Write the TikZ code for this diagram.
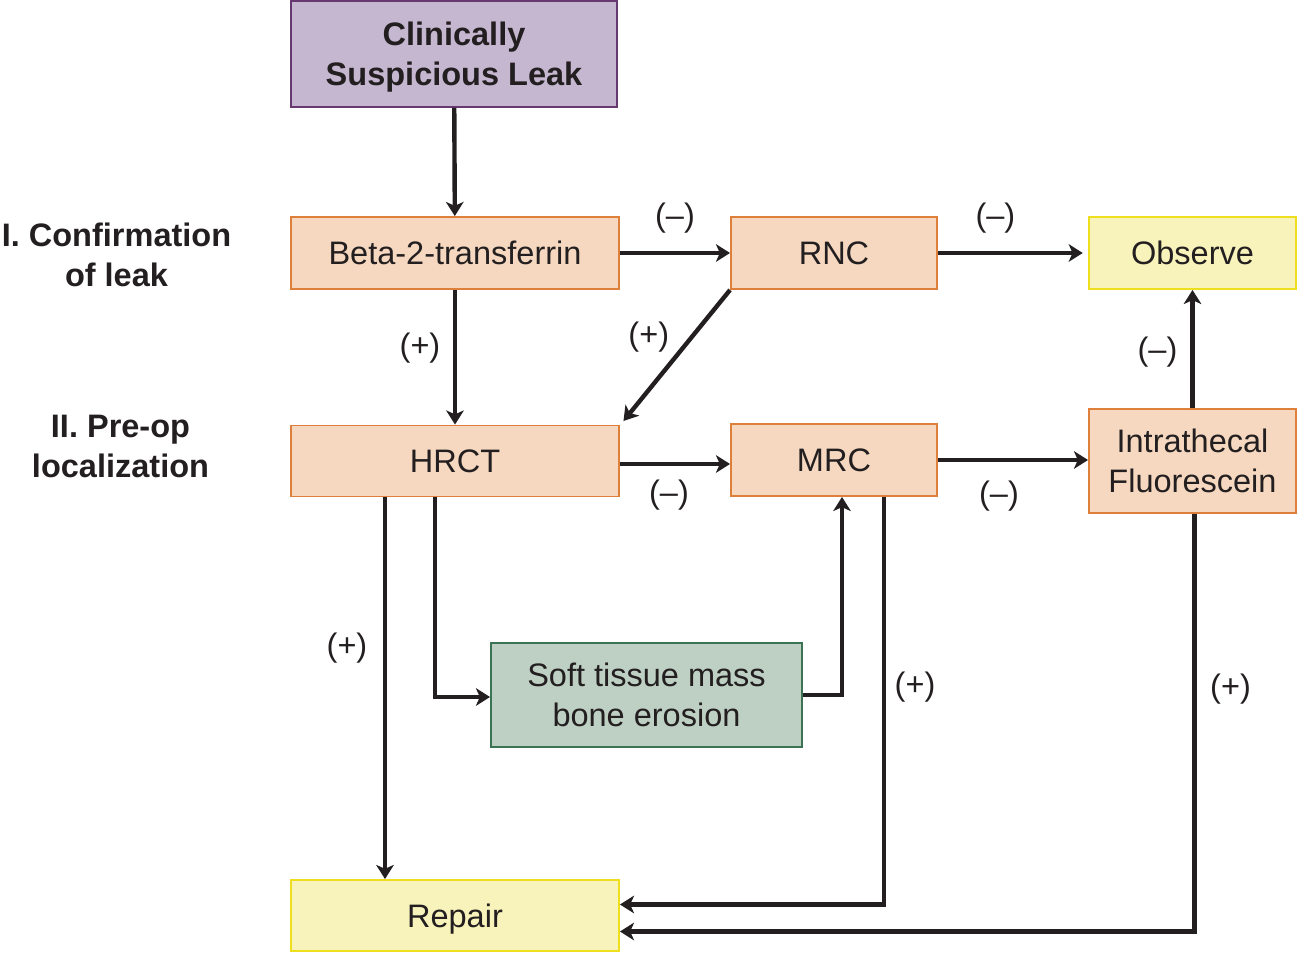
\documentclass[tikz,border=0pt]{standalone}
\usepackage{fontspec}
\setmainfont{Liberation Sans}
\usetikzlibrary{arrows.meta}
\definecolor{orfill}{RGB}{245,216,191}
\definecolor{ordraw}{RGB}{222,128,60}
\definecolor{pufill}{RGB}{197,183,208}
\definecolor{pudraw}{RGB}{104,56,112}
\definecolor{yefill}{RGB}{248,243,187}
\definecolor{yedraw}{RGB}{237,222,30}
\definecolor{grfill}{RGB}{190,208,196}
\definecolor{grdraw}{RGB}{60,115,85}
\definecolor{ink}{RGB}{35,31,32}
\tikzset{box/.style={draw, line width=1.1pt, align=center, inner sep=2pt,
  text depth=0pt, font=\fontsize{18.5}{23}\selectfont, text=ink},
  obox/.style={box, fill=orfill, draw=ordraw},
  lbl/.style={draw=none, fill=none, inner sep=1pt,
  font=\fontsize{18.5}{23}\selectfont, text=ink},
  head/.style={align=center, font=\bfseries\fontsize{18.5}{23}\selectfont, text=ink}}

\begin{document}
\begin{tikzpicture}[>={Stealth[length=8pt, width=10pt, inset=2.2pt]},
  arr/.style={->, line width=2.5pt, draw=ink}]
  \useasboundingbox (0,0) rectangle (25.94,-19.06);
  \node[box, fill=pufill, draw=pudraw, minimum width=6.52cm, minimum height=2.12cm,
    font=\bfseries\fontsize{18.5}{23}\selectfont] (clin) at (9.08,-1.08)
    {Clinically\\Suspicious Leak};
  \node[obox, minimum width=6.56cm, minimum height=1.44cm] (beta) at (9.10,-5.06) {Beta-2-transferrin};
  \node[obox, minimum width=4.12cm, minimum height=1.44cm] (rnc) at (16.68,-5.06) {RNC};
  \node[box, fill=yefill, draw=yedraw, minimum width=4.14cm, minimum height=1.44cm] (obs) at (23.85,-5.06) {Observe};
  \node[obox, minimum width=6.56cm, minimum height=1.42cm] (hrct) at (9.10,-9.22) {HRCT};
  \node[obox, minimum width=4.12cm, minimum height=1.44cm] (mrc) at (16.68,-9.20) {MRC};
  \node[obox, minimum width=4.14cm, minimum height=2.08cm] (ith) at (23.85,-9.22) {Intrathecal\\Fluorescein};
  \node[box, fill=grfill, draw=grdraw, minimum width=6.22cm, minimum height=2.08cm] (soft) at (12.93,-13.90)
    {Soft tissue mass\\bone erosion};
  \node[box, fill=yefill, draw=yedraw, minimum width=6.56cm, minimum height=1.42cm] (rep) at (9.10,-18.31) {Repair};
  % stage headings
  \node[head] (stage1) at (2.33,-5.10) {I. Confirmation\\of leak};
  \node[head] (stage2) at (2.41,-8.93) {II. Pre-op\\localization};
  % connectors
  \draw[arr] (clin) -- (beta);
  \draw[arr] (beta) -- node[lbl, yshift=0.70cm] {(–)} (rnc);
  \draw[arr] (rnc) -- node[lbl, xshift=-0.30cm, yshift=0.70cm] {(–)} ([xshift=-3pt]obs.west);
  \draw[arr] (beta) -- node[lbl, xshift=-0.70cm, yshift=0.18cm] {(+)} (hrct);
  \draw[arr] (rnc.south west) -- node[lbl, xshift=-0.56cm, yshift=0.36cm] {(+)} ([shift={(2pt,2pt)}]hrct.north east);
  \draw[arr] ([yshift=-0.06cm]hrct.east) -- node[lbl, xshift=-0.12cm, yshift=-0.62cm] {(–)} ([yshift=-0.08cm]mrc.west);
  \draw[arr] (mrc.east) -- node[lbl, xshift=-0.28cm, yshift=-0.72cm] {(–)} (mrc.east -| ith.west);
  \draw[arr] (ith) -- node[lbl, xshift=-0.70cm, yshift=-0.06cm] {(–)} (obs);
  \draw[arr] ([xshift=-1.4cm]hrct.south) -- node[lbl, xshift=-0.76cm, yshift=0.80cm] {(+)} ([xshift=-1.4cm]rep.north);
  \draw[arr] ([xshift=-0.4cm]hrct.south) |- ([yshift=-0.04cm]soft.west);
  \draw[arr] (soft.east) -| ([xshift=0.16cm]mrc.south);
  \draw[arr] ([xshift=1.0cm]mrc.south) |- node[lbl, pos=0.25, xshift=0.62cm, yshift=0.28cm] {(+)} ([yshift=0.22cm]rep.east);
  \draw[arr] ([xshift=0.04cm]ith.south) |- node[lbl, pos=0.25, xshift=0.72cm, yshift=0.68cm] {(+)} ([yshift=-0.32cm]rep.east);
\end{tikzpicture}
\end{document}
